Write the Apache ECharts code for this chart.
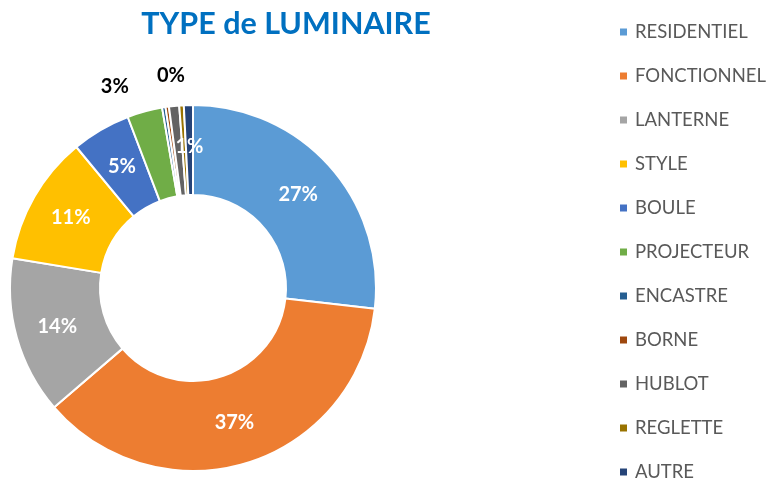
<!DOCTYPE html>
<html>
<head>
<meta charset="utf-8">
<script src="https://cdn.jsdelivr.net/npm/echarts@6/dist/echarts.min.js"></script>
<style>
  html, body { margin: 0; padding: 0; background: #fff; }
  #chart { width: 768px; height: 478px; }
</style>
</head>
<body>
<div id="chart"></div>
<script>
// categories, values (in %), colours
const categories = ['RESIDENTIEL', 'FONCTIONNEL', 'LANTERNE', 'STYLE', 'BOULE', 'PROJECTEUR', 'ENCASTRE', 'BORNE', 'HUBLOT', 'REGLETTE', 'AUTRE']
const values = [26.8, 36.9, 13.9, 11.4, 5.2, 3.1, 0.3, 0.3, 0.9, 0.4, 0.8]
const colors = ['#5B9BD5', '#ED7D31', '#A5A5A5', '#FFC000', '#4472C4', '#70AD47', '#255E91', '#9E480E', '#636363', '#997300', '#264478']
// which label goes where: in = white inside, out = black outside, none = hidden
const labelMode = ['in', 'in', 'in', 'in', 'in', 'out', 'none', 'none', 'none', 'out', 'in']

const chart = echarts.init(document.getElementById('chart'))

const seriesData = categories.map((name, i) => {
  let label
  if (labelMode[i] === 'in') {
    label = { show: true, position: 'inside', color: '#fff' }
  } else if (labelMode[i] === 'out') {
    label = { show: true, position: 'outside', color: '#000' }
  } else {
    label = { show: false }
  }
  return {
    name: name,
    value: values[i],
    label: label,
    labelLine: { show: false }
  }
})

const option = {
  animation: false,
  color: colors,
  title: {
    text: 'TYPE de LUMINAIRE',
    left: 281,
    top: 4,
    textAlign: 'center',
    textStyle: {
      fontFamily: 'Lato',
      fontWeight: 'bold',
      fontSize: 30.5,
      color: '#0070C0'
    }
  },
  legend: {
    orient: 'vertical',
    left: 618,
    top: 22,
    height: 470,
    padding: 0,
    icon: 'rect',
    itemWidth: 9,
    itemHeight: 9,
    itemGap: 24,
    data: categories,
    textStyle: {
      fontFamily: 'Lato',
      fontSize: 18.5,
      lineHeight: 20,
      color: '#595959',
      padding: [0, 0, 0, 2]
    }
  },
  series: [{
    type: 'pie',
    center: [193, 288],
    radius: [93, 183],
    startAngle: 90,
    clockwise: true,
    avoidLabelOverlap: false,
    percentPrecision: 1,
    itemStyle: {
      borderColor: '#fff',
      borderWidth: 2
    },
    label: {
      fontFamily: 'Lato',
      fontWeight: 'bold',
      fontSize: 20,
      formatter: p => Math.round(p.percent) + '%'
    },
    labelLine: {
      show: false,
      length: 26,
      length2: 0
    },
    // nudge the two outside labels like the original
    labelLayout: function (params) {
      if (params.dataIndex === 9) {
        return { dx: 10, dy: -4 }
      }
      if (params.dataIndex === 5) {
        return { dx: -4 }
      }
      return {}
    },
    emphasis: { disabled: true },
    data: seriesData
  }]
}

chart.setOption(option)
</script>
</body>
</html>
